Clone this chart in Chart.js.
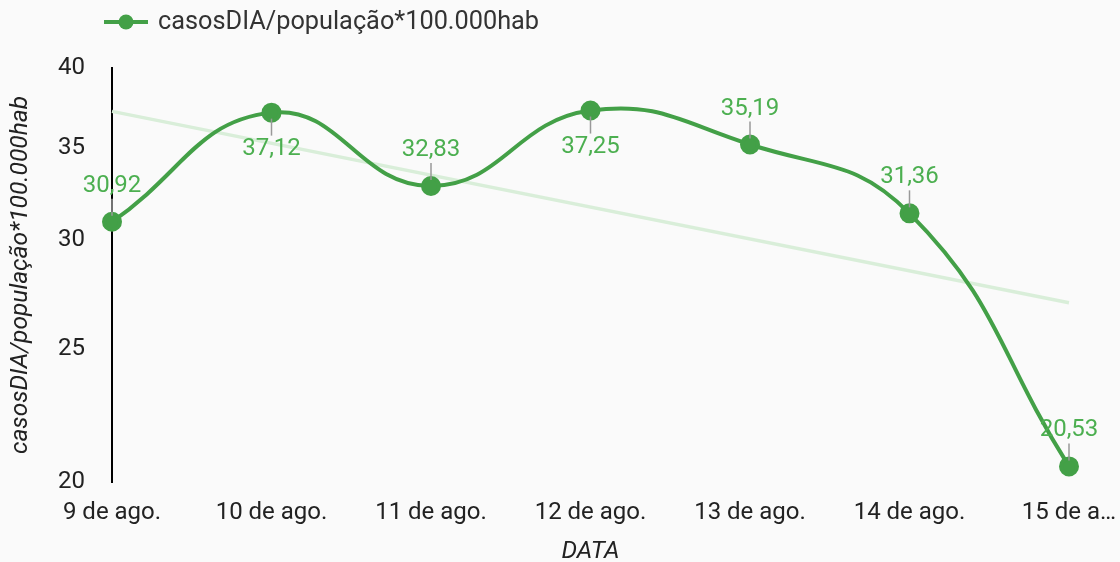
<!DOCTYPE html>
<html>
<head>
<meta charset="utf-8">
<script src="https://cdn.jsdelivr.net/npm/chart.js@4"></script>
<style>
  html, body { margin: 0; padding: 0; background: #fafafa; }
  #wrap { width: 1120px; height: 562px; }
</style>
</head>
<body>
<div id="wrap"><canvas id="grafico" width="1120" height="562"></canvas></div>
<script>
// dati
const giorni = ["9 de ago.", "10 de ago.", "11 de ago.", "12 de ago.", "13 de ago.", "14 de ago.", "15 de ago."];
const casosDia = [30.92, 37.12, 32.83, 37.25, 35.19, 31.36, 20.53];
const tendencia = [37.2, null, null, null, null, null, 27.0];
const tickY = [20, 25, 30, 35, 40];

const verde = "#43a047";
const verdeTesto = "#4caf50";
const FONT = "Roboto, 'Noto Sans', sans-serif";

// legenda disegnata a mano (linea + punto)
const legendaPlugin = {
  id: "legenda",
  afterDraw(chart) {
    const c = chart.ctx;
    c.save();
    c.strokeStyle = verde;
    c.lineWidth = 4;
    c.beginPath();
    c.moveTo(104, 22);
    c.lineTo(148, 22);
    c.stroke();
    c.fillStyle = verde;
    c.beginPath();
    c.arc(126, 22, 7.5, 0, Math.PI * 2);
    c.fill();
    c.fillStyle = "#333";
    c.font = "25.3px " + FONT;
    c.textBaseline = "middle";
    c.fillText("casosDIA/população*100.000hab", 158, 23);
    c.restore();
  }
};

// etichette dei valori con la lineetta grigia
const etichettePlugin = {
  id: "etichette",
  afterDatasetsDraw(chart) {
    const c = chart.ctx;
    const meta = chart.getDatasetMeta(0);
    c.save();
    c.font = "24px " + FONT;
    c.textAlign = "center";
    c.textBaseline = "middle";
    meta.data.forEach((p, i) => {
      const v = casosDia[i];
      const sotto = v > 36; // vicino al bordo alto: etichetta sotto
      const dir = sotto ? 1 : -1;
      c.strokeStyle = "#999";
      c.lineWidth = 1.5;
      c.beginPath();
      c.moveTo(p.x, p.y + dir * 6);
      c.lineTo(p.x, p.y + dir * 23);
      c.stroke();
      c.fillStyle = verdeTesto;
      c.fillText(v.toFixed(2).replace(".", ","), p.x, p.y + dir * 36);
    });
    c.restore();
  }
};

const ctx = document.getElementById("grafico").getContext("2d");
new Chart(ctx, {
  type: "line",
  data: {
    labels: giorni,
    datasets: [
      {
        label: "casosDIA/população*100.000hab",
        data: casosDia,
        borderColor: verde,
        backgroundColor: verde,
        borderWidth: 4,
        pointRadius: 8,
        pointHoverRadius: 8,
        tension: 0.45,
        order: 1
      },
      {
        label: "tendência",
        data: tendencia,
        borderColor: "#d9eed9",
        borderWidth: 3.5,
        pointRadius: 0,
        spanGaps: true,
        tension: 0,
        order: 2
      }
    ]
  },
  options: {
    responsive: false,
    animation: false,
    layout: { padding: { top: 68, left: 0, right: 51, bottom: 0 } },
    plugins: {
      legend: { display: false },
      tooltip: { enabled: false }
    },
    scales: {
      x: {
        offset: false,
        grid: { display: false, drawTicks: false },
        border: { display: false },
        ticks: {
          color: "#222",
          font: { family: FONT, size: 24 },
          padding: 17,
          maxRotation: 0,
          autoSkip: false,
          callback: (val, i) => (i === giorni.length - 1 ? "15 de a…" : giorni[i])
        },
        title: {
          display: true,
          text: "DATA",
          color: "#222",
          font: { family: FONT, size: 24.5, style: "italic" },
          padding: { top: 0, bottom: -5 }
        },
        afterFit(scale) {
          scale.height = 80;
          scale.paddingLeft = 0;
          scale.paddingRight = 0;
        }
      },
      y: {
        type: "logarithmic",
        min: 20,
        max: 40,
        grid: { display: false, drawTicks: false },
        border: { display: true, color: "#000", width: 2 },
        afterBuildTicks(scale) { scale.ticks = tickY.map(v => ({ value: v })); },
        ticks: {
          color: "#222",
          font: { family: FONT, size: 24 },
          padding: 27,
          callback: v => String(v)
        },
        title: {
          display: true,
          text: "casosDIA/população*100.000hab",
          color: "#222",
          font: { family: FONT, size: 24.5, style: "italic" },
          padding: { top: 6, bottom: 0 }
        },
        afterFit(scale) {
          scale.width = 112;
          scale.paddingTop = 0;
          scale.paddingBottom = 0;
        }
      }
    }
  },
  plugins: [legendaPlugin, etichettePlugin]
});
</script>
</body>
</html>
